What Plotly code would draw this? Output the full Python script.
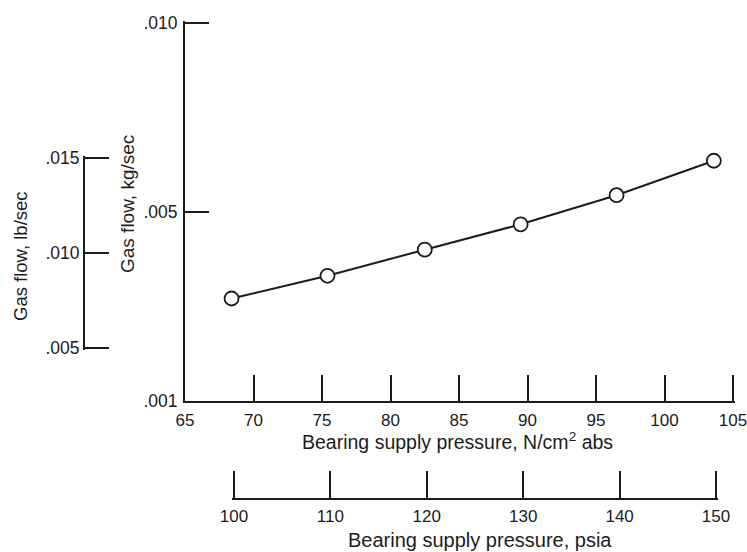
import plotly.graph_objects as go

# Bearing supply pressure (N/cm^2 abs) and measured gas flow (kg/sec)
pressure_ncm2 = [68.4, 75.4, 82.5, 89.5, 96.5, 103.6]
gas_flow_kgs = [0.00271, 0.00331, 0.00400, 0.00467, 0.00544, 0.00635]

# Axis ticks
x_ticks_ncm2 = [65, 70, 75, 80, 85, 90, 95, 100, 105]
x_ticks_psia = [100, 110, 120, 130, 140, 150]
y_tickvals_kgs = [0.0, 0.005, 0.010]
y_ticktext_kgs = [".001", ".005", ".010"]
y_tickvals_lbs = [0.005, 0.010, 0.015]
y_ticktext_lbs = [".005", ".010", ".015"]

W, H = 747, 552
INK = "#1c1c1c"
FONT = "Liberation Sans, Arial, sans-serif"


def px(x):
    return x / W


def py(y):
    return 1 - y / H


def padded(lo, hi, length_px, low=True, high=True, pad_px=2.0):
    # plotly drops inside ticks sitting on the very ends of an axis,
    # so widen the range by a couple of pixels where an end tick is wanted
    eps = (hi - lo) * pad_px / length_px
    return [lo - eps if low else lo, hi + eps if high else hi]


fig = go.Figure()

# main curve
fig.add_trace(go.Scatter(
    x=pressure_ncm2, y=gas_flow_kgs, mode="lines+markers",
    line=dict(color=INK, width=2),
    marker=dict(symbol="circle", size=14, color="white",
                line=dict(color=INK, width=1.8)),
    showlegend=False, hoverinfo="skip",
))
# carriers for the secondary scales (psia axis and lb/sec axis)
fig.add_trace(go.Scatter(x=[None], y=[None], xaxis="x2", yaxis="y3",
                         showlegend=False, hoverinfo="skip"))
fig.add_trace(go.Scatter(x=[None], y=[None], xaxis="x3", yaxis="y2",
                         showlegend=False, hoverinfo="skip"))

axis_common = dict(
    showgrid=False, zeroline=False, showline=True, linecolor=INK,
    linewidth=2, ticks="inside", tickcolor=INK, tickwidth=2,
    fixedrange=True, automargin=False, ticklabeloverflow="allow",
)
x_tickfont = dict(family=FONT, size=17, color=INK)
y_tickfont = dict(family=FONT, size=17.5, color=INK)

fig.update_layout(
    width=W, height=H, autosize=False,
    margin=dict(l=0, r=0, t=0, b=0, pad=0, autoexpand=False),
    paper_bgcolor="white", plot_bgcolor="rgba(0,0,0,0)",
    xaxis=dict(
        **axis_common, tickfont=x_tickfont,
        domain=[px(185), px(735)], range=padded(65, 105, 550, low=False),
        anchor="y", tickvals=x_ticks_ncm2, ticklen=26,
        ticklabelstandoff=3,
    ),
    yaxis=dict(
        **axis_common, tickfont=y_tickfont,
        domain=[py(401), py(20.7)], range=padded(0, 0.010, 380, low=False),
        anchor="x", tickvals=y_tickvals_kgs, ticktext=y_ticktext_kgs,
        ticklen=24, ticklabelstandoff=2,
    ),
    xaxis2=dict(
        **axis_common, tickfont=x_tickfont,
        domain=[px(232), px(718)], range=padded(100, 150, 486),
        anchor="y3", tickvals=x_ticks_psia, ticklen=27,
        ticklabelstandoff=2,
    ),
    yaxis3=dict(domain=[py(497.5), py(470)], range=[0, 1], visible=False,
                anchor="x2", fixedrange=True),
    xaxis3=dict(domain=[px(85), px(110)], range=[0, 1], visible=False,
                anchor="y2", fixedrange=True),
    yaxis2=dict(
        **axis_common, tickfont=y_tickfont,
        domain=[py(350), py(156)], range=padded(0.005, 0.015, 194),
        anchor="x3", tickvals=y_tickvals_lbs, ticktext=y_ticktext_lbs,
        ticklen=24, ticklabelstandoff=0,
    ),
)

fig.add_annotation(text="Bearing supply pressure, N/cm<sup>2</sup> abs",
                   x=px(457.5), y=py(441), xref="paper", yref="paper",
                   showarrow=False, xanchor="center", yanchor="middle",
                   font=dict(family=FONT, size=19.5, color=INK))
fig.add_annotation(text="Bearing supply pressure, psia",
                   x=px(480), y=py(540), xref="paper", yref="paper",
                   showarrow=False, xanchor="center", yanchor="middle",
                   font=dict(family=FONT, size=20, color=INK))
fig.add_annotation(text="Gas flow, kg/sec", textangle=-90,
                   x=px(127), y=py(204), xref="paper", yref="paper",
                   showarrow=False, xanchor="center", yanchor="middle",
                   font=dict(family=FONT, size=19, color=INK))
fig.add_annotation(text="Gas flow, lb/sec", textangle=-90,
                   x=px(20), y=py(256), xref="paper", yref="paper",
                   showarrow=False, xanchor="center", yanchor="middle",
                   font=dict(family=FONT, size=18.5, color=INK))

fig.write_html("out.html")
